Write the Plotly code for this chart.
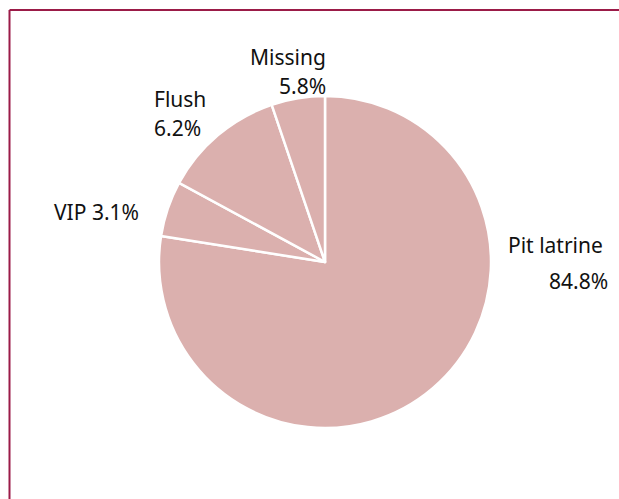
import plotly.graph_objects as go

# Sanitation categories, clockwise from 12 o'clock
categories = ["Pit latrine", "VIP", "Flush", "Missing"]
# slice sizes as they are drawn in the picture
shares = [77.5, 5.4, 11.9, 5.2]
# percentages printed next to the slices
pct_labels = ["84.8%", "3.1%", "6.2%", "5.8%"]

W, H = 619, 499
pie_color = "#dbb0ae"
frame_color = "#9b1b48"

fig = go.Figure()

fig.add_trace(go.Pie(
    labels=categories,
    values=shares,
    sort=False,
    direction="clockwise",
    rotation=0,
    marker=dict(colors=[pie_color] * len(categories),
                line=dict(color="white", width=2.5)),
    textinfo="none",
    hoverinfo="label",
    showlegend=False,
    domain=dict(x=[(325 - 168) / W, (325 + 168) / W],
                y=[(H - 262 - 166) / H, (H - 262 + 166) / H]),
))

# label text placed around the pie (x, y in pixels from top-left, anchor)
label_pos = {
    "Pit latrine": [("Pit latrine", 605, 245, "right"), (pct_labels[0], 610, 281, "right")],
    "VIP": [(f"VIP {pct_labels[1]}", 52, 212, "left")],
    "Flush": [("Flush", 152, 99, "left"), (pct_labels[2], 152, 128, "left")],
    "Missing": [("Missing", 248, 57, "left"), (pct_labels[3], 328, 86, "right")],
}
for cat in categories:
    for txt, px, py, anchor in label_pos[cat]:
        fig.add_annotation(
            x=px / W, y=1 - py / H, xref="paper", yref="paper",
            text=txt, showarrow=False, xanchor=anchor, yanchor="middle",
            font=dict(family="Noto Sans", size=21, color="#111111"),
        )

# frame lines on top and left
fig.add_shape(type="line", xref="paper", yref="paper",
              x0=9.5 / W, x1=1, y0=1 - 10 / H, y1=1 - 10 / H,
              line=dict(color=frame_color, width=2))
fig.add_shape(type="line", xref="paper", yref="paper",
              x0=9.5 / W, x1=9.5 / W, y0=0, y1=1 - 10 / H,
              line=dict(color=frame_color, width=2))

fig.update_layout(
    width=W, height=H,
    margin=dict(l=0, r=0, t=0, b=0),
    paper_bgcolor="white",
    plot_bgcolor="white",
)

# drop the default page margin so the figure sits at the window's corner
fig.write_html("out.html", config={"displayModeBar": False},
               post_script="document.body.style.margin='0';")
